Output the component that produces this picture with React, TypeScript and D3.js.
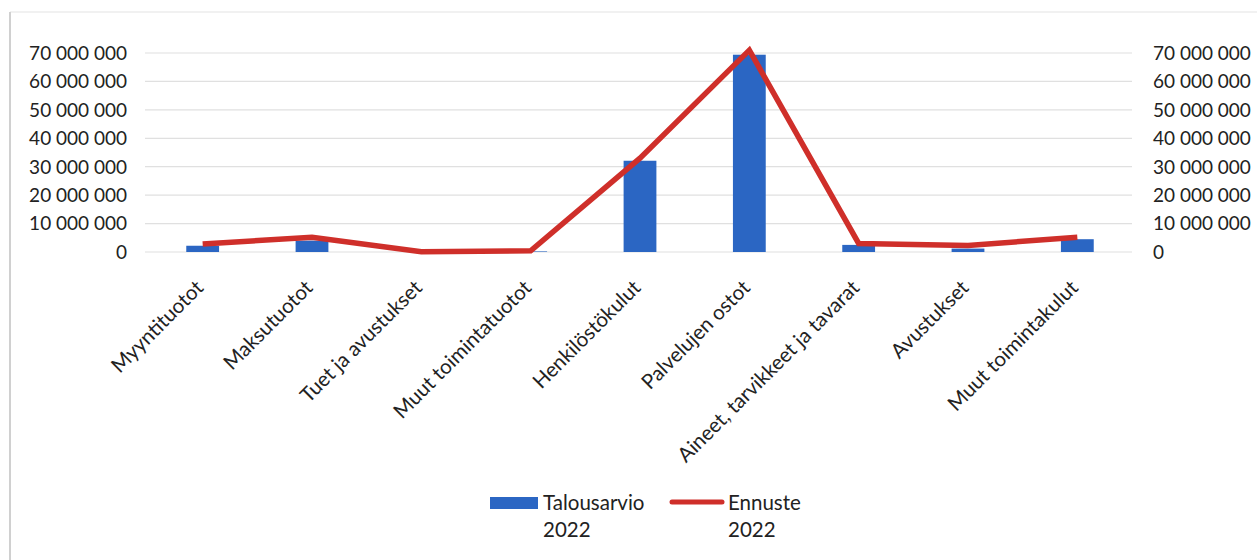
import React from "react";
import * as d3 from "d3";

const categories = [
  "Myyntituotot",
  "Maksutuotot",
  "Tuet ja avustukset",
  "Muut toimintatuotot",
  "Henkilöstökulut",
  "Palvelujen ostot",
  "Aineet, tarvikkeet ja tavarat",
  "Avustukset",
  "Muut toimintakulut",
];
const talousarvio2022 = [2200000, 4000000, 0, 200000, 32100000, 69400000, 2500000, 1200000, 4500000];
const ennuste2022 = [2800000, 5200000, 100000, 400000, 33000000, 71000000, 3000000, 2300000, 5200000];
const tickValues = [0, 10000000, 20000000, 30000000, 40000000, 50000000, 60000000, 70000000];
const seriesNames = ["Talousarvio", "Ennuste"];
const legendYear = "2022";

const W = 1257;
const H = 560;
const FONT = "Lato, 'Open Sans', sans-serif";
const BAR = "#2B66C3";
const LINE = "#CF2F2A";
const GRID = "#E0E0E0";

const fmt = (v: number) => d3.format(",")(v).replace(/,/g, " ");

export default function App() {
  const x = d3
    .scaleBand<string>()
    .domain(categories)
    .range([148, 1132])
    .paddingInner(0.7)
    .paddingOuter(0.35);
  const y = d3.scaleLinear().domain([0, 70000000]).range([252, 53]);
  const cx = (c: string) => (x(c) as number) + x.bandwidth() / 2;
  const line = d3
    .line<number>()
    .x((_, i) => cx(categories[i]))
    .y((d) => y(d));

  return (
    <svg
      width={W}
      height={H}
      style={{ position: "absolute", left: 0, top: 0, background: "#fff" }}
      fontFamily={FONT}
    >
      <line x1={10} y1={12} x2={W} y2={12} stroke="#EDEDED" strokeWidth={1.5} />
      <line x1={10} y1={12} x2={10} y2={H} stroke="#D0D0D0" strokeWidth={2} />
      {tickValues.map((t) => (
        <g key={t}>
          <line x1={145} x2={1132} y1={y(t)} y2={y(t)} stroke={GRID} strokeWidth={1.2} />
          <text x={127} y={y(t)} dy="0.36em" textAnchor="end" fontSize={19} fill="#222">
            {fmt(t)}
          </text>
          <text x={1153} y={y(t)} dy="0.36em" textAnchor="start" fontSize={19} fill="#222">
            {fmt(t)}
          </text>
        </g>
      ))}
      {categories.map((c, i) => (
        <rect
          key={c}
          x={x(c)}
          y={y(talousarvio2022[i])}
          width={x.bandwidth()}
          height={y(0) - y(talousarvio2022[i])}
          fill={BAR}
        />
      ))}
      <path d={line(ennuste2022) || ""} fill="none" stroke={LINE} strokeWidth={5.5} strokeLinejoin="miter" />
      {categories.map((c) => (
        <text
          key={c}
          transform={`translate(${cx(c) + 2},${289}) rotate(-45)`}
          textAnchor="end"
          fontSize={20.5}
          fill="#222"
        >
          {c}
        </text>
      ))}
      <g>
        <rect x={490} y={497} width={48} height={12} fill={BAR} />
        <text x={543} y={510} fontSize={20.5} fill="#222">{seriesNames[0]}</text>
        <text x={543} y={537} fontSize={20.5} fill="#222">{legendYear}</text>
        <line x1={672} x2={722} y1={502} y2={502} stroke={LINE} strokeWidth={5} strokeLinecap="round" />
        <text x={728} y={510} fontSize={20.5} fill="#222">{seriesNames[1]}</text>
        <text x={728} y={537} fontSize={20.5} fill="#222">{legendYear}</text>
      </g>
    </svg>
  );
}
